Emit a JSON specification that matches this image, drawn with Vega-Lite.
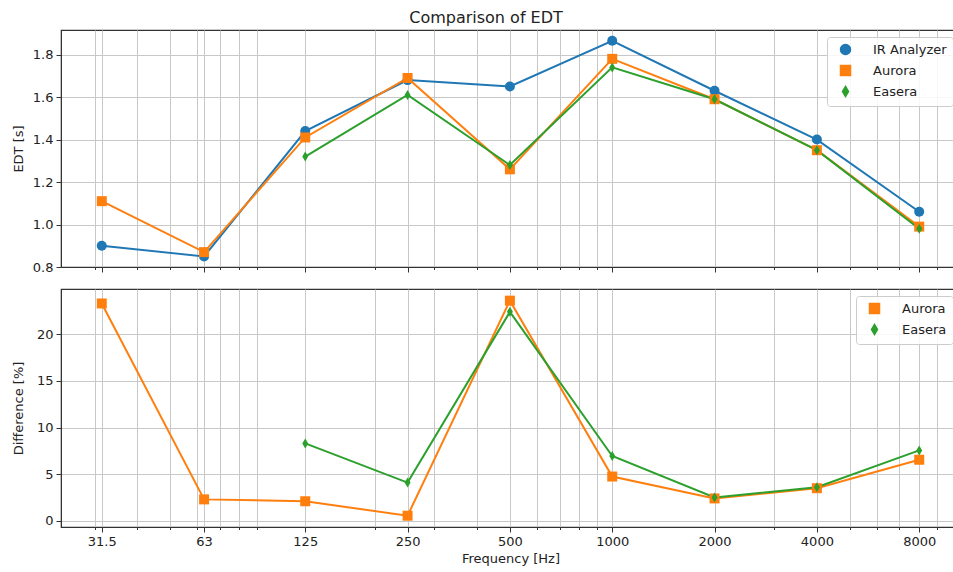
{
  "$schema": "https://vega.github.io/schema/vega-lite/v6.json",
  "padding": {"left": 11, "top": 10, "right": 0, "bottom": 0},
  "background": "white",
  "title": {"text": "Comparison of EDT", "font": "DejaVu Sans", "fontSize": 16, "fontWeight": "normal", "color": "#222222", "anchor": "middle", "offset": 3},
  "config": {
    "font": "DejaVu Sans",
    "view": {"stroke": "#333333", "strokeWidth": 1.2},
    "axis": {
      "labelFont": "DejaVu Sans", "labelFontSize": 13, "labelColor": "#222222",
      "titleFont": "DejaVu Sans", "titleFontSize": 13, "titleFontWeight": "normal", "titleColor": "#222222",
      "domainColor": "#333333", "tickColor": "#333333", "gridColor": "#c8c8c8", "gridWidth": 1,
      "tickSize": 5, "labelPadding": 3
    },
    "legend": {
      "orient": "top-right", "offset": 7, "padding": 6, "title": null,
      "labelFont": "DejaVu Sans", "labelFontSize": 13, "labelColor": "#222222",
      "fillColor": "rgba(255,255,255,0.85)", "strokeColor": "#cccccc", "cornerRadius": 3,
      "symbolSize": 100, "symbolOffset": 6, "labelOffset": 21, "rowPadding": 4
    }
  },
  "datasets": {
    "edt": [
      {"f": 31.5, "series": "IR Analyzer", "v": 0.90},
      {"f": 63, "series": "IR Analyzer", "v": 0.85},
      {"f": 125, "series": "IR Analyzer", "v": 1.44},
      {"f": 250, "series": "IR Analyzer", "v": 1.68},
      {"f": 500, "series": "IR Analyzer", "v": 1.65},
      {"f": 1000, "series": "IR Analyzer", "v": 1.865},
      {"f": 2000, "series": "IR Analyzer", "v": 1.63},
      {"f": 4000, "series": "IR Analyzer", "v": 1.40},
      {"f": 8000, "series": "IR Analyzer", "v": 1.06},
      {"f": 31.5, "series": "Aurora", "v": 1.11},
      {"f": 63, "series": "Aurora", "v": 0.87},
      {"f": 125, "series": "Aurora", "v": 1.41},
      {"f": 250, "series": "Aurora", "v": 1.69},
      {"f": 500, "series": "Aurora", "v": 1.26},
      {"f": 1000, "series": "Aurora", "v": 1.78},
      {"f": 2000, "series": "Aurora", "v": 1.59},
      {"f": 4000, "series": "Aurora", "v": 1.35},
      {"f": 8000, "series": "Aurora", "v": 0.99},
      {"f": 125, "series": "Easera", "v": 1.32},
      {"f": 250, "series": "Easera", "v": 1.61},
      {"f": 500, "series": "Easera", "v": 1.28},
      {"f": 1000, "series": "Easera", "v": 1.74},
      {"f": 2000, "series": "Easera", "v": 1.59},
      {"f": 4000, "series": "Easera", "v": 1.35},
      {"f": 8000, "series": "Easera", "v": 0.98}
    ],
    "diff": [
      {"f": 31.5, "series": "Aurora", "v": 23.3},
      {"f": 63, "series": "Aurora", "v": 2.3},
      {"f": 125, "series": "Aurora", "v": 2.1},
      {"f": 250, "series": "Aurora", "v": 0.55},
      {"f": 500, "series": "Aurora", "v": 23.6},
      {"f": 1000, "series": "Aurora", "v": 4.75},
      {"f": 2000, "series": "Aurora", "v": 2.4},
      {"f": 4000, "series": "Aurora", "v": 3.5},
      {"f": 8000, "series": "Aurora", "v": 6.55},
      {"f": 125, "series": "Easera", "v": 8.3},
      {"f": 250, "series": "Easera", "v": 4.1},
      {"f": 500, "series": "Easera", "v": 22.4},
      {"f": 1000, "series": "Easera", "v": 6.95},
      {"f": 2000, "series": "Easera", "v": 2.5},
      {"f": 4000, "series": "Easera", "v": 3.6},
      {"f": 8000, "series": "Easera", "v": 7.55}
    ]
  },
  "spacing": 13,
  "resolve": {"scale": {"color": "independent", "shape": "independent", "x": "independent", "y": "independent"}},
  "vconcat": [
    {
      "width": 899, "height": 237,
      "data": {"name": "edt"},
      "encoding": {
        "x": {"field": "f", "type": "quantitative",
          "scale": {"type": "log", "domain": [23.9, 10546], "nice": false},
          "axis": {"title": null, "labels": false, "grid": true,
            "values": [30, 31.5, 40, 50, 60, 63, 70, 80, 90, 125, 200, 250, 300, 400, 500, 600, 700, 800, 900, 1000, 2000, 3000, 4000, 5000, 6000, 7000, 8000, 9000],
            "tickSize": {"condition": {"test": "indexof([31.5,63,125,250,500,1000,2000,4000,8000], datum.value) >= 0", "value": 5}, "value": 2.5}
          }
        },
        "y": {"field": "v", "type": "quantitative",
          "scale": {"domain": [0.8, 1.916], "nice": false, "zero": false},
          "axis": {"title": "EDT [s]", "values": [0.8, 1.0, 1.2, 1.4, 1.6, 1.8], "format": ".1f", "grid": true, "titleX": -36}
        },
        "color": {"field": "series", "type": "nominal",
          "scale": {"domain": ["IR Analyzer", "Aurora", "Easera"], "range": ["#1f77b4", "#ff7f0e", "#2ca02c"]},
          "legend": {"orient": "top-right", "title": null}
        }
      },
      "layer": [
        {"mark": {"type": "line", "strokeWidth": 2}},
        {"mark": {"type": "point", "filled": true, "opacity": 1, "size": 100},
         "encoding": {"shape": {"field": "series", "type": "nominal",
           "scale": {"domain": ["IR Analyzer", "Aurora", "Easera"], "range": ["circle", "square", "M0,-1L0.6,0L0,1L-0.6,0Z"]},
           "legend": {"orient": "top-right", "title": null}}}}
      ]
    },
    {
      "width": 899, "height": 238,
      "data": {"name": "diff"},
      "encoding": {
        "x": {"field": "f", "type": "quantitative",
          "scale": {"type": "log", "domain": [23.9, 10546], "nice": false},
          "axis": {"title": "Frequency [Hz]", "grid": true, "format": "~g", "labelOverlap": false, "labelFlush": false,
            "values": [30, 31.5, 40, 50, 60, 63, 70, 80, 90, 125, 200, 250, 300, 400, 500, 600, 700, 800, 900, 1000, 2000, 3000, 4000, 5000, 6000, 7000, 8000, 9000],
            "labelExpr": "indexof([31.5,63,125,250,500,1000,2000,4000,8000], datum.value) >= 0 ? datum.label : ''",
            "tickSize": {"condition": {"test": "indexof([31.5,63,125,250,500,1000,2000,4000,8000], datum.value) >= 0", "value": 5}, "value": 2.5}
          }
        },
        "y": {"field": "v", "type": "quantitative",
          "scale": {"domain": [-0.66, 24.85], "nice": false, "zero": false},
          "axis": {"title": "Difference [%]", "values": [0, 5, 10, 15, 20], "grid": true, "titleX": -36}
        },
        "color": {"field": "series", "type": "nominal",
          "scale": {"domain": ["Aurora", "Easera"], "range": ["#ff7f0e", "#2ca02c"]},
          "legend": {"orient": "top-right", "title": null}
        }
      },
      "layer": [
        {"mark": {"type": "line", "strokeWidth": 2}},
        {"mark": {"type": "point", "filled": true, "opacity": 1, "size": 100},
         "encoding": {"shape": {"field": "series", "type": "nominal",
           "scale": {"domain": ["Aurora", "Easera"], "range": ["square", "M0,-1L0.6,0L0,1L-0.6,0Z"]},
           "legend": {"orient": "top-right", "title": null}}}}
      ]
    }
  ]
}
